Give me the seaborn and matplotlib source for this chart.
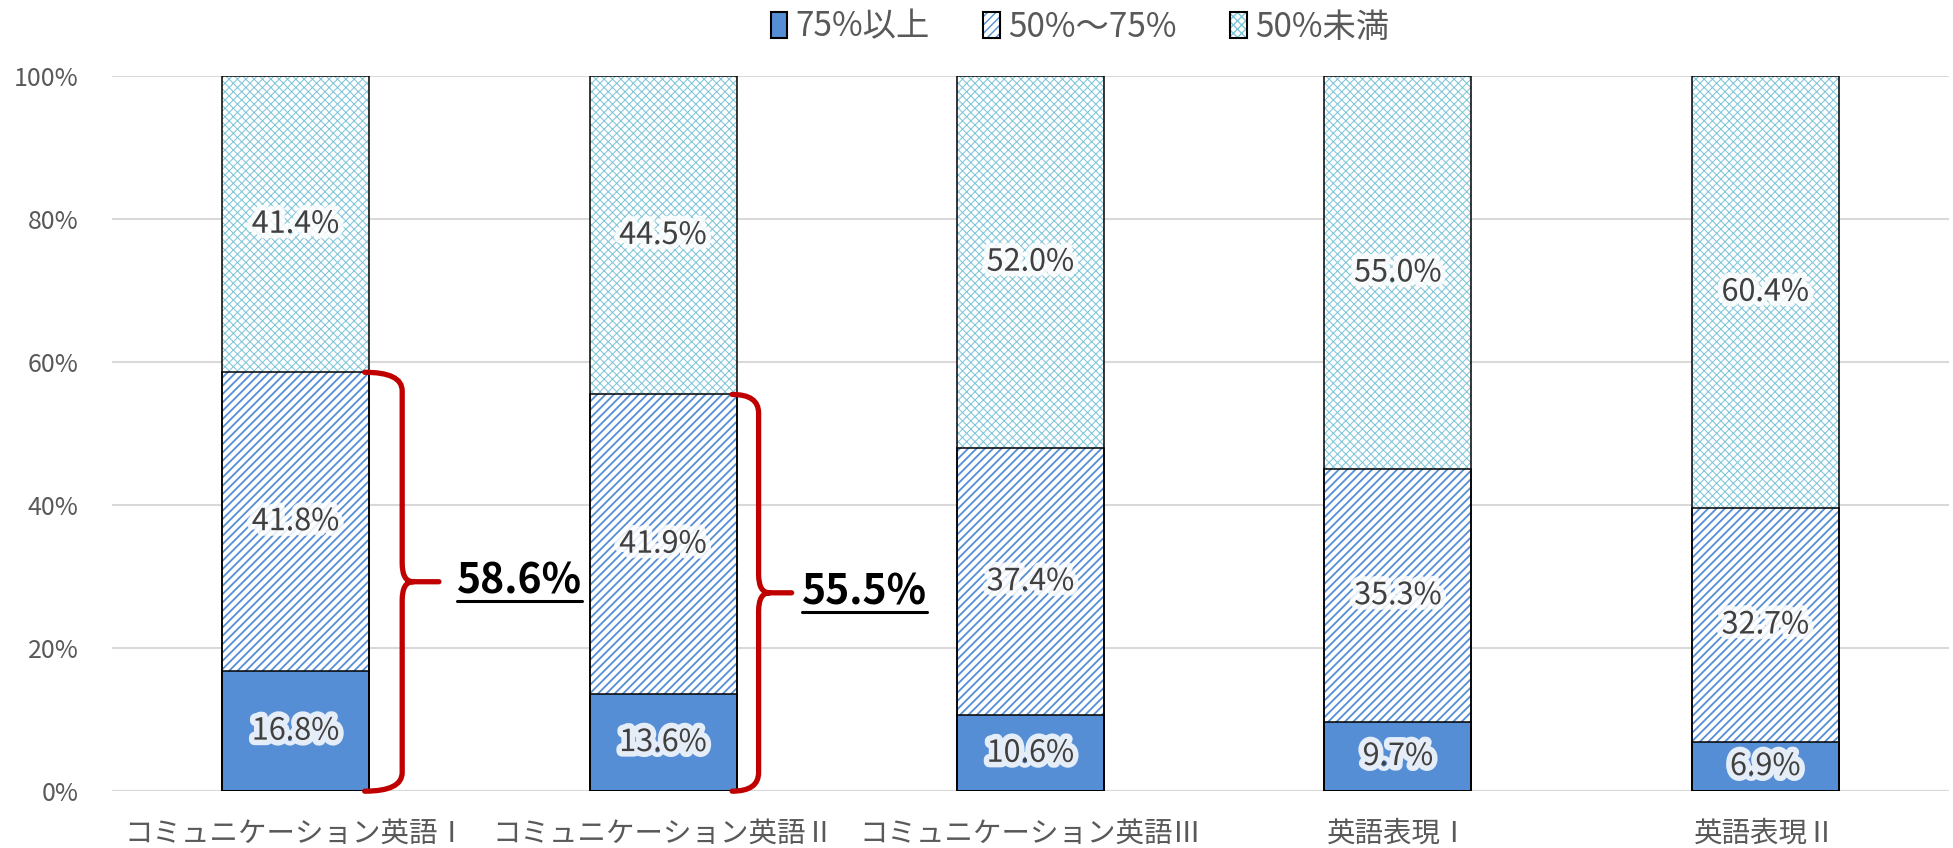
import matplotlib
matplotlib.use("Agg")
import matplotlib.pyplot as plt
import matplotlib.patheffects as pe
from matplotlib.patches import Patch, PathPatch
from matplotlib.path import Path
from matplotlib.legend_handler import HandlerTuple
from matplotlib.lines import Line2D
from matplotlib.transforms import IdentityTransform
import numpy as np
import seaborn as sns

# data
subjects = ["コミュニケーション英語Ⅰ", "コミュニケーション英語Ⅱ", "コミュニケーション英語Ⅲ",
            "英語表現Ⅰ", "英語表現Ⅱ"]
series_names = ["75%以上", "50%～75%", "50%未満"]
over75 = [16.8, 13.6, 10.6, 9.7, 6.9]
mid50_75 = [41.8, 41.9, 37.4, 35.3, 32.7]
under50 = [41.4, 44.5, 52.0, 55.0, 60.4]
brace_totals = [58.6, 55.5]   # 50%以上 for the first two subjects
yticks = [0, 20, 40, 60, 80, 100]

sns.set_style("white")
plt.rcParams["font.family"] = ["Noto Sans CJK JP", "DejaVu Sans"]
plt.rcParams["hatch.linewidth"] = 1.0

BLUE = "#558ED5"
TEAL = "#80C6D9"
GRAY = "#595959"
LABEL = "#404040"
RED = "#C00000"


def hatch_lw(p, lw):
    if hasattr(p, "set_hatch_linewidth"):
        p.set_hatch_linewidth(lw)


fig = plt.figure(figsize=(19.53, 8.48), dpi=100)
ax = fig.add_axes([0.0573, 0.067, 0.9407, 0.843])

low = np.array(over75)
mid = low + np.array(mid50_75)
top = mid + np.array(under50)

W = 0.4
layers = [(top, "white", TEAL, "xxxx", 0.75), (mid, "white", BLUE, "////", 1.3), (low, BLUE, BLUE, None, 1.0)]
for vals, fc, hc, hatch, hlw in layers:
    with plt.rc_context({"hatch.linewidth": hlw}):
        sns.barplot(x=subjects, y=vals, color=fc, saturation=1, width=W, errorbar=None, ax=ax)
        for p in ax.containers[-1]:
            p.set_facecolor(fc)
            p.set_edgecolor(hc)
            p.set_linewidth(0)
            if hatch:
                p.set_hatch(hatch)
                hatch_lw(p, hlw)
# black outlines of every segment
for vals in (top, mid, low):
    sns.barplot(x=subjects, y=vals, width=W, errorbar=None, ax=ax)
    for p in ax.containers[-1]:
        p.set_facecolor("none")
        p.set_edgecolor("black")
        p.set_linewidth(1.1)

# value labels
glow = [pe.withStroke(linewidth=8, foreground="white", alpha=0.85)]
for i in range(len(subjects)):
    bottoms = [0, low[i], mid[i]]
    for b, v in zip(bottoms, [over75[i], mid50_75[i], under50[i]]):
        ax.text(i, b + v / 2, f"{v:.1f}%", ha="center", va="center", fontsize=22,
                color=LABEL, path_effects=glow, zorder=5)

# axes styling
ax.set_xlim(-0.5, len(subjects) - 0.5)
ax.set_ylim(0, 100)
ax.set_yticks(yticks)
ax.set_yticklabels([f"{t}%" for t in yticks])
ax.yaxis.grid(True, color="#D9D9D9", lw=1.5)
ax.set_axisbelow(True)
for s in ax.spines.values():
    s.set_visible(False)
ax.axhline(0, color="#D9D9D9", lw=2.2, zorder=0.5)
ax.tick_params(axis="y", length=0, pad=24, labelsize=18, labelcolor=GRAY)
ax.tick_params(axis="x", length=0, pad=20, labelsize=20.5, labelcolor=GRAY)
ax.set_xlabel("")
ax.set_ylabel("")

# red braces with totals
gaps = [0.09, 0.06]
tips = [0.19, 0.15]
text_gaps = [0.05, 0.027]
texts = []
for i, (T, g, tp, tg) in enumerate(zip(brace_totals, gaps, tips, text_gaps)):
    xr = i + W / 2 - 0.012
    xv = i + W / 2 + g
    xt = i + W / 2 + tp
    m = T / 2
    ry, rx = 2.6, 0.03
    verts = [(xr, T), (xv, T), (xv, T - ry), (xv, m + ry), (xv, m), (xv + rx, m), (xt, m),
             (xr, 0), (xv, 0), (xv, ry), (xv, m - ry), (xv, m), (xv + rx, m)]
    codes = [Path.MOVETO, Path.CURVE3, Path.CURVE3, Path.LINETO, Path.CURVE3, Path.CURVE3, Path.LINETO,
             Path.MOVETO, Path.CURVE3, Path.CURVE3, Path.LINETO, Path.CURVE3, Path.CURVE3]
    ax.add_patch(PathPatch(Path(verts, codes), fill=False, edgecolor=RED, lw=3.8,
                           capstyle="round", joinstyle="round", zorder=6, clip_on=False))
    t = ax.text(xt + tg, m, f"{T:.1f}%", ha="left", va="center", fontsize=29.5,
                fontweight="bold", color="black", zorder=6)
    texts.append(t)

# legend
handles = []
for fc, hc, hatch, hlw in [(BLUE, BLUE, None, 1.0), ("white", BLUE, "////", 1.3), ("white", TEAL, "xxxx", 0.75)]:
    with plt.rc_context({"hatch.linewidth": hlw}):
        hp = Patch(facecolor=fc, edgecolor=hc, hatch=hatch, lw=0)
        hatch_lw(hp, hlw)
    handles.append((hp, Patch(facecolor="none", edgecolor="black", lw=1.5)))
fig.legend(handles, series_names, handler_map={tuple: HandlerTuple(ndivide=1, pad=0)},
           loc="center", bbox_to_anchor=(0.553, 0.968), ncol=3, frameon=False,
           fontsize=24, labelcolor=GRAY, handlelength=0.5, handleheight=0.8,
           handletextpad=0.25, columnspacing=1.6)

# underline the brace totals
fig.canvas.draw()
for t in texts:
    bb = t.get_window_extent()
    fig.add_artist(Line2D([bb.x0, bb.x1], [bb.y0 + 2, bb.y0 + 2], color="black", lw=2.2,
                          transform=IdentityTransform()))

fig.savefig("out.png", dpi=100)
